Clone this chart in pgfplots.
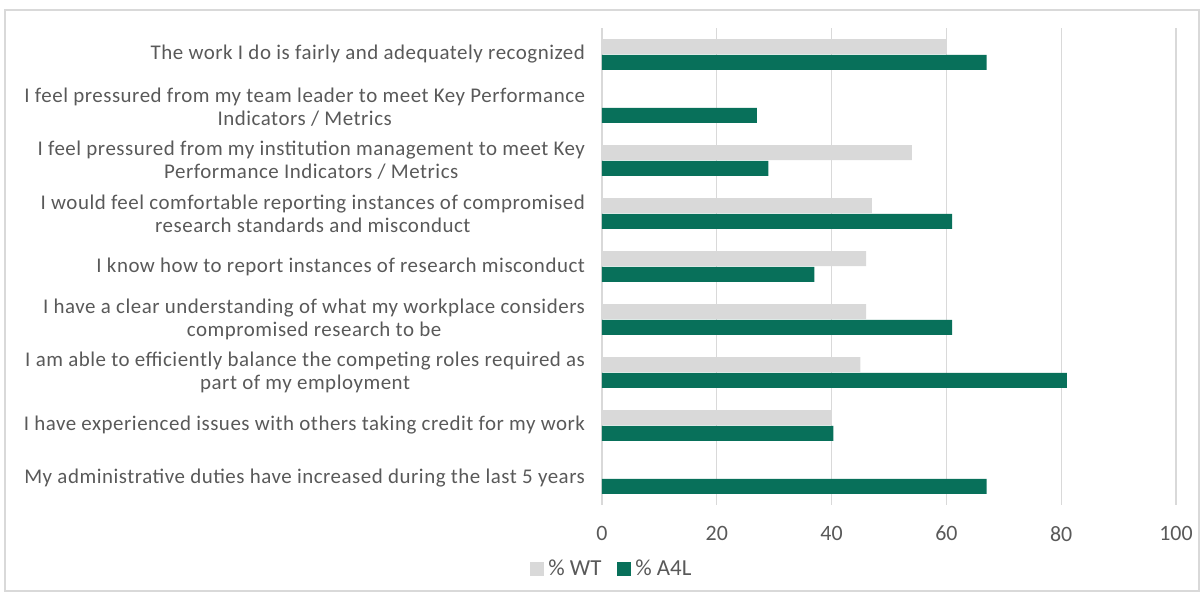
\documentclass[border=0pt]{standalone}
\usepackage{fontspec}
\setmainfont{Carlito}
\newfontfamily\lblfont[LetterSpace=2.5]{Carlito}
\usepackage{pgfplots}
\pgfplotsset{compat=1.18}
\definecolor{wtgray}{HTML}{D9D9D9}
\definecolor{afourl}{HTML}{08705A}
\definecolor{txtgray}{HTML}{595959}
\definecolor{gridgray}{HTML}{D9D9D9}

\begin{document}
\begin{tikzpicture}[x=1bp,y=1bp]
% 1 px of the reference = 0.5bp; plot area lower left at (0,0)
\path[use as bounding box] (-301,252.5) rectangle (301,-43.5);
\draw[gridgray,line width=0.6bp] (-298.5,247.5) rectangle (298.5,-43);
\begin{axis}[at={(0,0)},anchor=south west,scale only axis,
  width=287bp,height=238.5bp,
  xbar,bar width=7.5bp,
  xmin=0,xmax=100,xtick={0,20,...,100},
  ymin=-0.5,ymax=8.5,y dir=reverse,
  ytick={0,...,8},
  yticklabels={
    {The work I do is fairly and adequately recognized},
    {I feel pressured from my team leader to meet Key Performance\\Indicators / Metrics},
    {I feel pressured from my institution management to meet Key\\Performance Indicators / Metrics},
    {I would feel comfortable reporting instances of compromised\\research standards and misconduct},
    {I know how to report instances of research misconduct},
    {I have a clear understanding of what my workplace considers\\compromised research to be},
    {I am able to efficiently balance the competing roles required as\\part of my employment},
    {I have experienced issues with others taking credit for my work},
    {My administrative duties have increased during the last 5 years}},
  yticklabel style={align=center,font=\lblfont\fontsize{10.5}{11.5}\selectfont,text=txtgray,xshift=-5bp},
  xticklabel style={font=\fontsize{11}{13}\selectfont,text=txtgray,yshift=-7bp},
  /pgf/number format/assume math mode=true,
  major tick length=0pt,
  axis line style={draw=none},
  xmajorgrids,grid style={gridgray,line width=0.6bp},
  legend style={at={(0.019,-0.134)},anchor=center,legend columns=2,draw=none,
    font=\fontsize{11.5}{13}\selectfont,text=txtgray,
    /tikz/every even column/.append style={column sep=6bp}},
  legend image code/.code={\fill[#1] (0bp,-3.5bp) rectangle (7bp,3.5bp);},
]
\addplot[fill=wtgray,draw=none,bar shift=3.9bp] coordinates {
(60,0) (0,1) (54,2) (47,3) (46,4) (46,5) (45,6) (40,7) (0,8)};
\addplot[fill=afourl,draw=none,bar shift=-3.9bp] coordinates {
(67,0) (27,1) (29,2) (61,3) (37,4) (61,5) (81,6) (40.3,7) (67,8)};
\legend{\% WT,\% A4L}
\end{axis}
\end{tikzpicture}
\end{document}
